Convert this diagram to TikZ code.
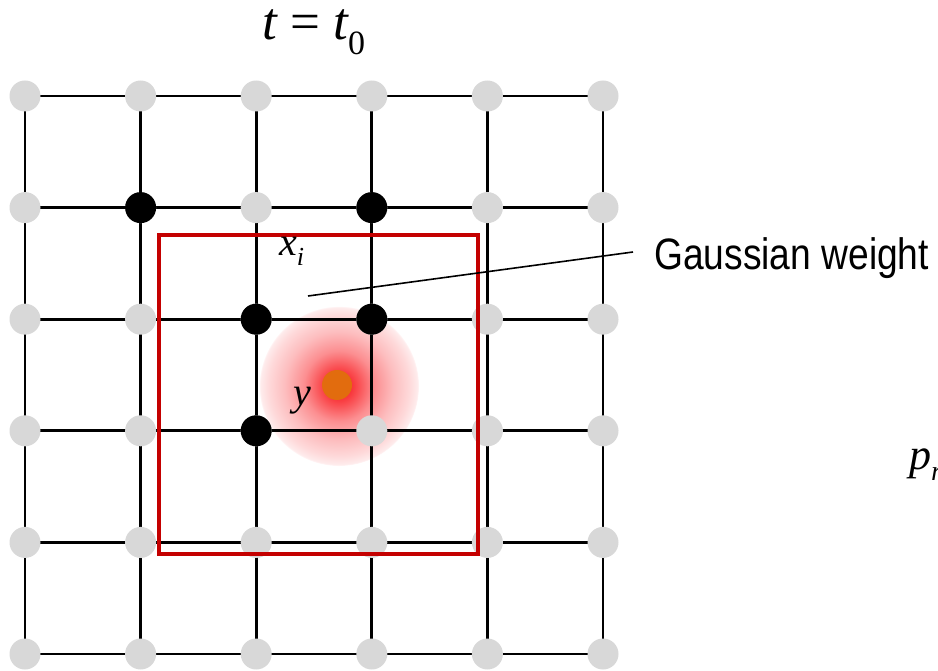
\documentclass[tikz,border=0pt]{standalone}
\usepackage{fontspec}
\setmainfont{Liberation Serif}
\newfontfamily\gwfont{Liberation Sans}
\definecolor{nodegray}{RGB}{216,216,216}
\definecolor{boxred}{RGB}{196,0,0}
\definecolor{dotorange}{RGB}{226,108,14}
\definecolor{gred}{RGB}{248,20,25}
\pgfdeclareradialshading{gaussblur}{\pgfpoint{0bp}{0bp}}{%
  color(0bp)=(gred);
  color(3bp)=(gred!90!white);
  color(6bp)=(gred!75!white);
  color(11bp)=(gred!48!white);
  color(17bp)=(gred!28!white);
  color(22bp)=(gred!16!white);
  color(24.6bp)=(gred!8!white);
  color(25bp)=(white);
  color(50bp)=(white)}
\begin{document}
\begin{tikzpicture}[x=1pt,y=-1pt,
  gridline/.style={line width=2.8pt,black},
  gnode/.style={circle,inner sep=0pt,minimum size=31pt,fill=nodegray},
  bnode/.style={circle,inner sep=0pt,minimum size=31pt,fill=black},
  redbox/.style={draw=boxred,line width=4pt},
  lbl/.style={inner sep=0pt,font=\fontsize{40}{44}\selectfont\itshape},
]
\useasboundingbox[fill=white] (0,0) rectangle (938,671);
% gaussian blur
\shade[shading=gaussblur] (339,386) circle[radius=80];
% grid lines
\foreach \i in {0,...,5}{
  \draw[gridline] ({25+115.6*\i},96) -- ({25+115.6*\i},{96+111.6*5});
  \draw[gridline] (25,{96+111.6*\i}) -- ({25+115.6*5},{96+111.6*\i});
}
% nodes
\foreach \i in {0,...,5}{
  \foreach \j in {0,...,5}{
    \node[gnode] (n-\i-\j) at ({25+115.6*\i},{96+111.6*\j}) {};
  }
}
\node[bnode] at (n-1-1) {};
\node[bnode] at (n-3-1) {};
\node[bnode] at (n-2-2) {};
\node[bnode] at (n-3-2) {};
\node[bnode] at (n-2-3) {};
% orange sample point
\node[circle,inner sep=0pt,minimum size=30pt,fill=dotorange] (ydot) at (337,385) {};
% red window
\draw[redbox] (159,235) rectangle (478,554);
% labels
\node[lbl,anchor=base west] (title) at (262,40) {\fontsize{53}{56}\selectfont t \upshape= \itshape t\raisebox{-15pt}{\fontsize{34}{36}\selectfont\upshape 0}};
\node[lbl,anchor=base west] (xi) at (279,256) {x\raisebox{-0.25em}{\fontsize{26}{28}\selectfont i}};
\node[lbl,anchor=base west] (ylbl) at (293,405) {y};
\node[lbl,anchor=base west] (pr) at (909,469) {\fontsize{44}{48}\selectfont p\raisebox{-0.25em}{\fontsize{28}{30}\selectfont r}};
\node[inner sep=0pt,anchor=west] (gw) at (654,258) {\scalebox{0.845}[1]{\gwfont\fontsize{44}{48}\selectfont Gaussian weight}};
\coordinate (gwstart) at (308,296);
\coordinate (gwend) at (633,252);
\draw[line width=1.6pt] (gwstart) -- (gwend);
\end{tikzpicture}
\end{document}
